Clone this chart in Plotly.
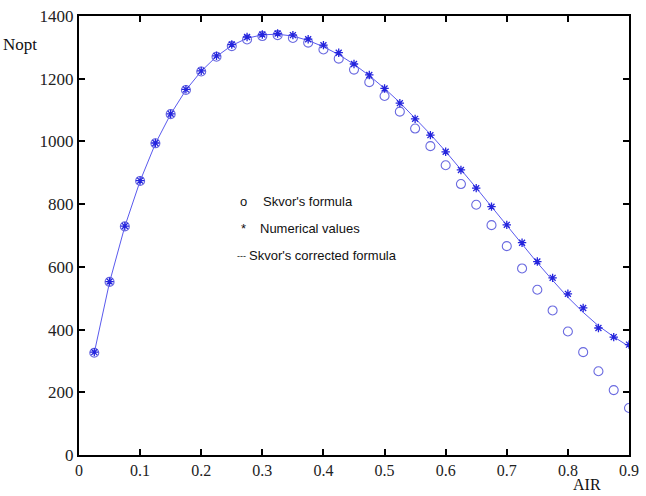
import plotly.graph_objects as go

# AIR values
air = [0.025, 0.05, 0.075, 0.1, 0.125, 0.15, 0.175, 0.2, 0.225, 0.25, 0.275, 0.3,
       0.325, 0.35, 0.375, 0.4, 0.425, 0.45, 0.475, 0.5, 0.525, 0.55, 0.575, 0.6,
       0.625, 0.65, 0.675, 0.7, 0.725, 0.75, 0.775, 0.8, 0.825, 0.85, 0.875, 0.9]

# Skvor's formula (circles)
skvor = [326, 552, 729, 874, 994, 1087, 1164, 1223, 1270, 1304, 1325, 1336,
         1339, 1330, 1315, 1293, 1264, 1229, 1189, 1145, 1095, 1041, 985, 924,
         864, 798, 733, 666, 595, 527, 461, 394, 328, 267, 207, 150]

# Numerical values (stars)
numerical = [328, 553, 730, 875, 995, 1088, 1166, 1225, 1273, 1309, 1333, 1341,
             1344, 1339, 1326, 1307, 1283, 1247, 1212, 1169, 1122, 1072, 1020, 967,
             909, 851, 792, 734, 677, 617, 565, 514, 469, 405, 376, 352]

# Skvor's corrected formula (line)
corrected = [326, 551, 729, 874, 993, 1087, 1164, 1224, 1271, 1306, 1329, 1340,
             1342, 1336, 1322, 1302, 1277, 1246, 1210, 1169, 1124, 1075, 1023, 968,
             911, 852, 792, 732, 672, 613, 557, 503, 455, 412, 377, 346]

xticks = [0, 0.1, 0.2, 0.3, 0.4, 0.5, 0.6, 0.7, 0.8, 0.9]
xticklabels = ["0", "0.1", "0.2", "0.3", "0.4", "0.5", "0.6", "0.7", "0.8", "0.9"]
yticks = [0, 200, 400, 600, 800, 1000, 1200, 1400]
yticklabels = ["0", "200", "400", "600", "800", "1000", "1200", "1400"]

fig = go.Figure()
fig.add_trace(go.Scatter(x=air, y=corrected, mode="lines",
                         line=dict(color="#5a5aee", width=1), showlegend=False))
fig.add_trace(go.Scatter(x=air, y=skvor, mode="markers",
                         marker=dict(symbol="circle-open", size=9, color="#6a6ae0",
                                     line=dict(width=1.1, color="#6a6ae0")),
                         showlegend=False))
fig.add_trace(go.Scatter(x=air, y=numerical, mode="markers",
                         marker=dict(symbol="asterisk-open", size=7, color="#2424dd",
                                     line=dict(width=1.3, color="#2424dd")),
                         showlegend=False))

axis_common = dict(showline=True, linewidth=2.2, linecolor="black", mirror="ticks",
                   ticks="inside", ticklen=6, tickwidth=2, tickcolor="black",
                   showgrid=False, zeroline=False, ticklabeloverflow="allow")

fig.update_xaxes(range=[0, 0.9], tickvals=xticks, ticktext=xticklabels,
                 tickfont=dict(family="Liberation Serif", size=16, color="#222222"),
                 **axis_common)
fig.update_yaxes(range=[0, 1400], tickvals=yticks, ticktext=yticklabels,
                 tickfont=dict(family="Liberation Serif", size=17, color="#222222"),
                 **axis_common)

legend_font = dict(family="Liberation Sans", size=13, color="#111111")
ann = []
rows = [("o", 0.2605, 13, "Skvor's formula", 0.2975, 810),
        ("*", 0.2625, 13, "Numerical values", 0.2925, 721),
        ("---", 0.2545, 9, "Skvor's corrected formula", 0.2750, 635)]
for sym, xs, ss, txt, xt, yv in rows:
    ann.append(dict(x=xs, y=yv, xref="x", yref="y", text=sym, showarrow=False,
                    xanchor="left", yanchor="middle",
                    font=dict(family="Liberation Sans", size=ss, color="#111111")))
    ann.append(dict(x=xt, y=yv, xref="x", yref="y", text=txt, showarrow=False,
                    xanchor="left", yanchor="middle", font=legend_font))

ann.append(dict(x=-79 / 560, y=(455 - 43) / 441, xref="paper", yref="paper",
                text="Nopt", showarrow=False, xanchor="left", yanchor="middle",
                font=dict(family="Liberation Serif", size=17, color="#111111")))
ann.append(dict(x=(580 - 79) / 560, y=-(495 - 455) / 441, xref="paper", yref="paper",
                text="AIR", showarrow=False, xanchor="left", yanchor="bottom",
                font=dict(family="Liberation Serif", size=16, color="#111111")))

fig.update_layout(width=646, height=496, margin=dict(l=79, r=7, t=14, b=41),
                  paper_bgcolor="white", plot_bgcolor="white", annotations=ann)

fig.write_html("out.html")
